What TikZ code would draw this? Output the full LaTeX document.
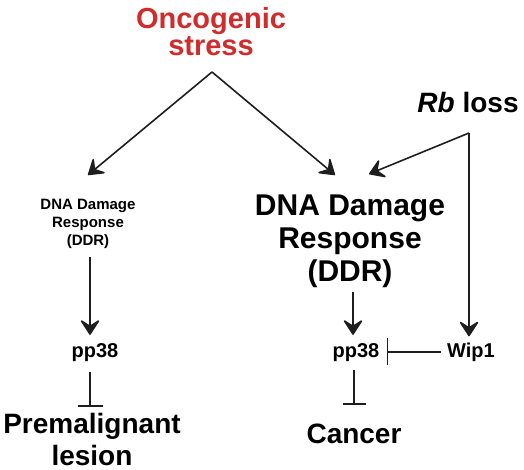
\documentclass[tikz,border=0pt]{standalone}
\usepackage{fontspec}
\setmainfont{Liberation Sans}
\usetikzlibrary{arrows.meta}
\definecolor{oncred}{RGB}{208,44,44}
\definecolor{ink}{RGB}{30,30,30}
\tikzset{
  lbl/.style={inner sep=0pt, align=center},
  act/.style={line width=1.6pt, draw=ink, arrows={-Stealth[length=17pt,width=22pt,inset=7pt,round]}},
  inh/.style={line width=1.6pt, draw=ink, arrows={-Bar[width=#1,line width=1.8pt]}},
  inh/.default=25pt
}
\begin{document}
\begin{tikzpicture}[x=1pt,y=-1pt]
\useasboundingbox (0,0) rectangle (524,470);
% texts
\node[lbl, anchor=north, text=oncred, font=\fontsize{29}{27}\selectfont\bfseries] (onc) at (211,7) {Oncogenic\\stress};
\node[lbl, anchor=base, font=\fontsize{28}{30}\selectfont\bfseries] (rb) at (468,113) {\textit{Rb} loss};
\node[lbl, anchor=north, font=\fontsize{15}{18}\selectfont\bfseries] (ddrS) at (88,199) {DNA Damage\\Response\\(DDR)};
\node[lbl, anchor=north, font=\fontsize{30}{33}\selectfont\bfseries] (ddrB) at (350,195) {DNA Damage\\Response\\(DDR)};
\node[lbl, anchor=base, font=\fontsize{20}{22}\selectfont\bfseries] (ppL) at (95,357) {pp38};
\node[lbl, anchor=base, font=\fontsize{20}{22}\selectfont\bfseries] (ppR) at (356,357) {pp38};
\node[lbl, anchor=base, font=\fontsize{20}{22}\selectfont\bfseries] (wip) at (471,357) {Wip1};
\node[lbl, anchor=north, font=\fontsize{28}{32}\selectfont\bfseries] (pre) at (92,413) {Premalignant\\lesion};
\node[lbl, anchor=base, font=\fontsize{28}{32}\selectfont\bfseries] (can) at (354,443) {Cancer};
% connector points
\coordinate (apex) at (212,72);
\coordinate (tipL) at (88,175);
\coordinate (tipR) at (335,175);
\coordinate (rbc) at (469,133);
\coordinate (tipRb) at (369,174);
% connectors
\draw[act] (apex) -- (tipL);
\draw[act] (apex) -- (tipR);
\draw[act] (rbc) -- (tipRb);
\draw[act, shorten >=6pt] (rbc) -- (rbc |- wip.north);
\draw[act, shorten <=8pt, shorten >=8pt] (ddrS.south -| ppL.north) ++(-5,0) -- ([xshift=-5pt]ppL.north);
\draw[act, shorten <=4pt, shorten >=8pt] (ddrB.south -| ppR.north) ++(-3,0) -- ([xshift=-3pt]ppR.north);
\draw[inh=25pt, shorten <=11pt, shorten >=6pt] ([xshift=-5pt]ppL.south) -- ([xshift=-5pt]ppL.south |- pre.north);
\draw[inh=23pt, shorten <=9pt, shorten >=18pt] ([xshift=-2pt]ppR.south) -- ([xshift=-2pt]ppR.south |- can.north);
\draw[inh=27pt, shorten <=6pt, shorten >=7pt] (wip.west) -- (ppR.east |- wip.west);
\end{tikzpicture}
\end{document}
